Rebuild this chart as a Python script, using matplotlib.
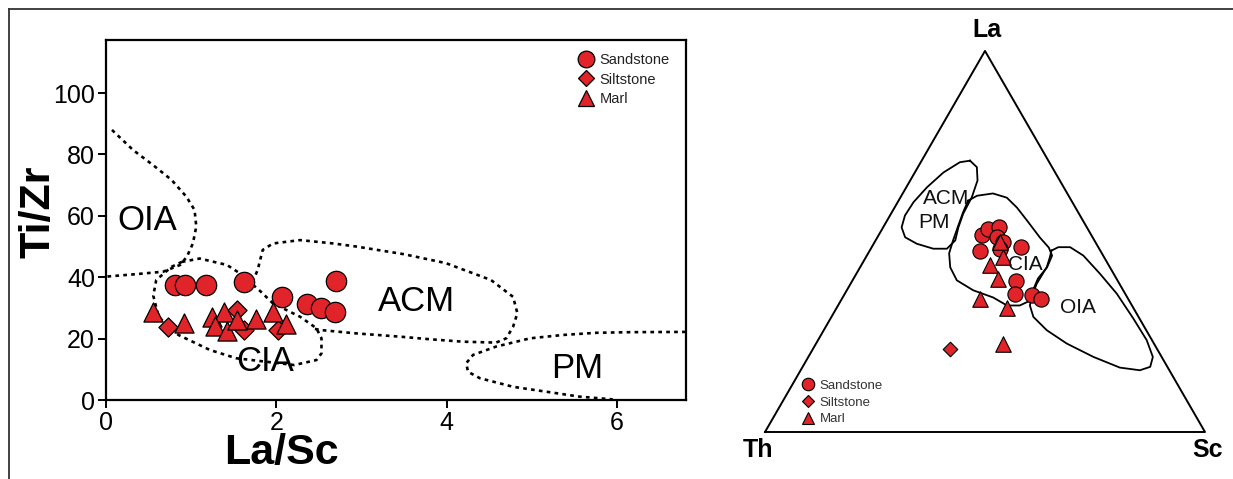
import numpy as np
import matplotlib.pyplot as plt
from matplotlib.lines import Line2D

plt.rcParams['font.family'] = ['Liberation Sans', 'DejaVu Sans']

RED = '#e0242a'

# -------------------------------------------------
# La/Sc vs Ti/Zr data
# -------------------------------------------------
sand_lasc = [0.81, 0.93, 1.18, 1.62, 2.07, 2.36, 2.53, 2.69, 2.70]
sand_tizr = [37.5, 37.5, 37.5, 38.5, 33.7, 31.3, 29.9, 28.8, 38.9]
silt_lasc = [0.73, 1.54, 1.62, 2.02]
silt_tizr = [23.7, 29.3, 22.8, 22.8]
marl_lasc = [0.55, 0.92, 1.24, 1.38, 1.28, 1.42, 1.54, 1.76, 1.96, 2.11]
marl_tizr = [28.8, 25.2, 27.1, 28.8, 24.1, 22.5, 26.1, 26.3, 28.8, 24.8]

# field boundaries (dotted), La/Sc and Ti/Zr
oia_x = [0.07, 0.32, 0.555, 0.77, 0.945, 1.04, 1.06, 1.02, 0.95, 0.87, 0.67, 0.35, 0.0]
oia_y = [88, 81.4, 76.5, 71.7, 66.2, 61.9, 56.5, 51, 46.7, 44, 41.8, 41, 40.2]
cia_x = [0.89, 1.10, 1.42, 1.57, 1.81, 1.96, 2.28, 2.47, 2.53, 2.53, 2.47, 2.21,
         1.53, 1.22, 0.85, 0.62, 0.555, 0.59, 0.77, 0.89]
cia_y = [45, 46.1, 44, 41.3, 35.5, 31.5, 27.1, 23.4, 20.1, 15.2, 13, 11.4,
         13.6, 16.3, 21.2, 27, 34, 39.1, 43.4, 45]
acm_x = [1.72, 1.78, 1.84, 1.96, 2.28, 2.67, 2.94, 3.5, 3.99, 4.52, 4.78, 4.83,
         4.78, 4.70, 4.58, 4.19, 3.80, 3.47, 2.94, 2.52, 2.43]
acm_y = [38.5, 42.3, 48.9, 51, 52.1, 51, 50, 47.5, 44.6, 39.1, 33.6, 28.3,
         23.9, 20.1, 18.7, 19.0, 19.8, 20.6, 21.7, 22.8, 23.3]
pm_x = [6.9, 6.15, 5.76, 5.37, 4.98, 4.58, 4.31, 4.23, 4.25, 4.39, 4.78, 5.17, 5.56, 5.95]
pm_y = [22.2, 22.1, 21.9, 21.2, 20.1, 17.4, 14.7, 12.0, 9.2, 7.1, 4.3, 2.7, 1.1, 0.2]

# -------------------------------------------------
# La-Th-Sc ternary data (%)
# -------------------------------------------------
t_sand_la = [51.6, 53.3, 53.7, 51.1, 49.8, 48.1, 48.5, 47.6, 39.5, 36.3, 35.9, 35.0]
t_sand_th = [24.9, 22.6, 19.9, 21.8, 21.0, 22.6, 17.6, 27.4, 23.2, 25.1, 21.4, 19.8]
t_sand_sc = [23.5, 24.1, 26.4, 27.1, 29.2, 29.3, 33.9, 25.0, 37.3, 38.6, 42.7, 45.2]
t_silt_la = [21.9]
t_silt_th = [47.0]
t_silt_sc = [31.1]
t_marl_la = [43.7, 45.9, 40.2, 35.0, 32.6, 23.2, 49.8]
t_marl_th = [27.0, 22.9, 27.0, 33.6, 28.6, 34.2, 21.7]
t_marl_sc = [29.3, 31.2, 32.8, 31.4, 38.8, 42.6, 28.5]

# ternary fields, La and Sc (%), Th is the rest
f_acm_la = [71.2, 69.5, 66.0, 61.6, 57.3, 53.7, 50.3, 48.1, 48.1, 49.4, 51.1,
            53.7, 56.8, 60.3, 64.2, 68.1, 70.8, 71.2]
f_acm_sc = [11.0, 13.4, 15.3, 16.2, 16.4, 17.1, 18.1, 17.3, 14.2, 9.8, 6.3,
            4.2, 3.4, 3.6, 4.7, 6.5, 8.9, 11.0]
f_cia_la = [60.7, 62.0, 62.6, 61.5, 58.9, 55.5, 51.0, 48.4, 46.3, 43.2, 40.3, 37.2,
            34.6, 33.2, 33.2, 35.3, 37.2, 39.8, 43.2, 46.9, 50.3, 53.9, 57.6, 60.7]
f_cia_sc = [15.8, 17.2, 20.5, 24.2, 27.8, 31.8, 37.0, 40.3, 42.1, 42.5, 41.9, 42.3,
            43.2, 41.3, 38.4, 34.2, 28.7, 23.7, 20.5, 18.4, 17.6, 16.9, 16.2, 15.8]
f_oia_la = [47.6, 48.5, 48.5, 46.3, 41.5, 36.3, 29.8, 24.1, 19.7, 17.1, 16.2, 16.9,
            19.7, 23.2, 26.7, 30.2, 33.2, 35.4, 38.9, 43.3, 45.9, 47.6]
f_oia_sc = [41.3, 42.4, 45.1, 49.2, 55.4, 61.8, 68.8, 74.7, 78.3, 79.0, 77.1, 72.2,
            64.8, 57.0, 50.7, 45.9, 43.6, 42.9, 42.3, 42.4, 41.8, 41.3]


def tern(la, sc):
    la = np.asarray(la) / 100.0
    sc = np.asarray(sc) / 100.0
    return sc + la / 2.0, la * np.sqrt(3) / 2.0


fig = plt.figure(figsize=(12.33, 4.79), dpi=100)
W, H = 1233, 479

# outer frame (top and left only visible)
fig.add_artist(Line2D([9 / W, 1.0], [1 - 9 / H, 1 - 9 / H], transform=fig.transFigure,
                      color='#333333', lw=1.3))
fig.add_artist(Line2D([9 / W, 9 / W], [0, 1 - 9 / H], transform=fig.transFigure,
                      color='#333333', lw=1.3))

# -------------------------------------------------
# Left: La/Sc vs Ti/Zr
# -------------------------------------------------
ax = fig.add_axes([106 / W, (H - 400) / H, 580 / W, 360 / H])
dots = dict(color='black', lw=1.9, ls=(0, (1.4, 1.6)))
ax.plot(oia_x, oia_y, **dots)
ax.plot(cia_x, cia_y, **dots)
ax.plot(acm_x, acm_y, **dots)
ax.plot(pm_x, pm_y, **dots)

ax.scatter(silt_lasc, silt_tizr, marker='D', s=95, c=RED, edgecolors='black', lw=0.9, zorder=3)
ax.scatter(marl_lasc, marl_tizr, marker='^', s=190, c=RED, edgecolors='black', lw=0.9, zorder=3)
ax.scatter(sand_lasc, sand_tizr, marker='o', s=215, c=RED, edgecolors='black', lw=0.9, zorder=4)

for txt, x, y in [('OIA', 0.49, 58.5), ('ACM', 3.64, 32), ('CIA', 1.87, 12.6), ('PM', 5.53, 10.4)]:
    ax.text(x, y, txt, fontsize=25, ha='center', va='center', zorder=5)

ax.set_xlim(0, 6.81)
ax.set_ylim(0, 117.3)
ax.set_xticks([0, 2, 4, 6])
ax.set_yticks([0, 20, 40, 60, 80, 100])
ax.tick_params(direction='out', length=6, width=1.4, labelsize=18, pad=2)
for sp in ax.spines.values():
    sp.set_linewidth(1.6)
ax.text(-0.117, 0.522, 'Ti/Zr', transform=ax.transAxes, rotation=90, fontsize=31,
        fontweight='bold', ha='center', va='center')
ax.text(0.302, -0.147, 'La/Sc', transform=ax.transAxes, fontsize=31,
        fontweight='bold', ha='center', va='center')

handles = [Line2D([], [], ls='none', marker='o', ms=12, mfc=RED, mec='black', mew=0.9),
           Line2D([], [], ls='none', marker='D', ms=8.5, mfc=RED, mec='black', mew=0.9),
           Line2D([], [], ls='none', marker='^', ms=12, mfc=RED, mec='black', mew=0.9)]
leg = ax.legend(handles, ['Sandstone', 'Siltstone', 'Marl'], loc='upper right',
                bbox_to_anchor=(0.984, 0.985), frameon=False, fontsize=10.5,
                handletextpad=0.3, labelspacing=0.4, borderpad=0, handlelength=1.2)
for t in leg.get_texts():
    t.set_color('#222222')

# -------------------------------------------------
# Right: La-Th-Sc ternary
# -------------------------------------------------
ax2 = fig.add_axes([738.6 / W, 3 / H, 492.8 / W, 475 / H])
ax2.set_xlim(-0.06, 1.06)
ax2.set_ylim(-0.1, 0.9795)
ax2.axis('off')

ax2.plot([0, 1, 0.5, 0], [0, 0, np.sqrt(3) / 2, 0], color='black', lw=1.4)
for la, sc in [(f_acm_la, f_acm_sc), (f_cia_la, f_cia_sc), (f_oia_la, f_oia_sc)]:
    x, y = tern(la, sc)
    ax2.plot(x, y, color='black', lw=1.3)

x, y = tern(t_sand_la, t_sand_sc)
ax2.scatter(x, y, marker='o', s=120, c=RED, edgecolors='black', lw=0.8, zorder=3)
x, y = tern(t_marl_la, t_marl_sc)
ax2.scatter(x, y, marker='^', s=125, c=RED, edgecolors='black', lw=0.8, zorder=4)
x, y = tern(t_silt_la, t_silt_sc)
ax2.scatter(x, y, marker='D', s=55, c=RED, edgecolors='black', lw=0.8, zorder=4)

for txt, x, y in [('ACM', 0.411, 0.530), ('PM', 0.384, 0.475), ('CIA', 0.591, 0.380),
                  ('OIA', 0.711, 0.282)]:
    ax2.text(x, y, txt, fontsize=15, ha='center', va='center', color='#111111', zorder=5)

ax2.text(0.505, 0.914, 'La', fontsize=18, fontweight='bold', ha='center', va='center')
ax2.text(-0.016, -0.041, 'Th', fontsize=18, fontweight='bold', ha='center', va='center')
ax2.text(1.005, -0.041, 'Sc', fontsize=18, fontweight='bold', ha='center', va='center')

handles2 = [Line2D([], [], ls='none', marker='o', ms=9, mfc=RED, mec='black', mew=0.8),
            Line2D([], [], ls='none', marker='D', ms=6.5, mfc=RED, mec='black', mew=0.8),
            Line2D([], [], ls='none', marker='^', ms=9, mfc=RED, mec='black', mew=0.8)]
leg2 = ax2.legend(handles2, ['Sandstone', 'Siltstone', 'Marl'], loc='lower left',
                  bbox_to_anchor=(0.064, 0.0), bbox_transform=ax2.transData,
                  frameon=False, fontsize=9.5, handletextpad=0.3, labelspacing=0.35,
                  borderpad=0, handlelength=1.2)
for t in leg2.get_texts():
    t.set_color('#333333')

fig.savefig('out.png', dpi=100)
